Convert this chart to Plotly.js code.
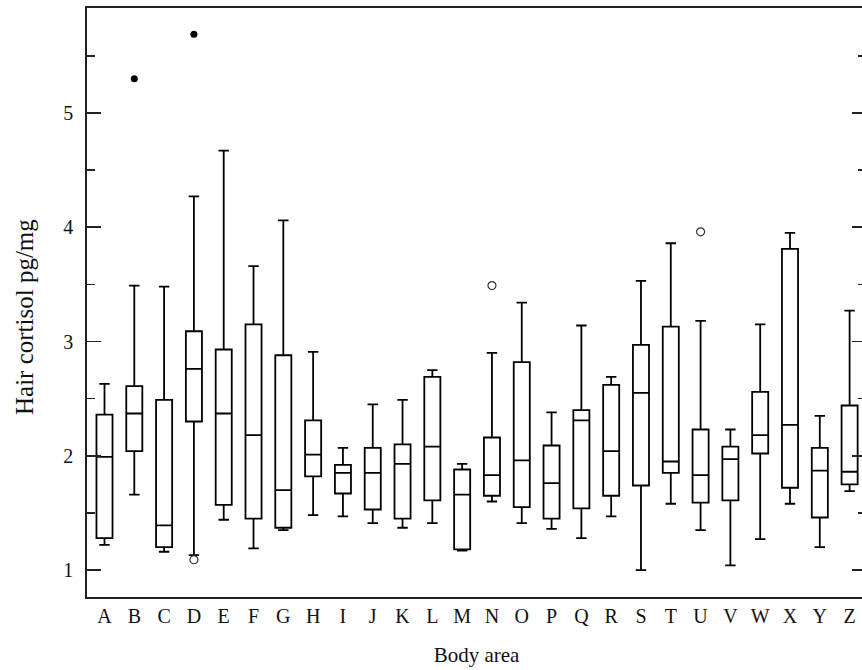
<!DOCTYPE html>
<html>
<head>
<meta charset="utf-8">
<script src="https://cdn.plot.ly/plotly-3.0.1.min.js"></script>
<style>
  html, body { margin: 0; padding: 0; background: #fff; overflow: hidden; }
  #chart { width: 870px; height: 670px; }
</style>
</head>
<body>
<div id="chart"></div>
<script>
// Body areas (categories)
const areas = ["A","B","C","D","E","F","G","H","I","J","K","L","M","N","O","P","Q","R","S","T","U","V","W","X","Y","Z"];

// Box statistics (hair cortisol, pg/mg)
const lowerWhisker = [1.22, 1.66, 1.16, 1.13, 1.44, 1.19, 1.35, 1.48, 1.47, 1.41, 1.37, 1.41, 1.17, 1.60, 1.41, 1.36, 1.28, 1.47, 1.00, 1.58, 1.35, 1.04, 1.27, 1.58, 1.20, 1.69];
const q1Values     = [1.28, 2.04, 1.20, 2.30, 1.57, 1.45, 1.37, 1.82, 1.67, 1.53, 1.45, 1.61, 1.18, 1.65, 1.55, 1.45, 1.54, 1.65, 1.74, 1.85, 1.59, 1.61, 2.02, 1.72, 1.46, 1.75];
const medianValues = [1.99, 2.37, 1.39, 2.76, 2.37, 2.18, 1.70, 2.01, 1.85, 1.85, 1.93, 2.08, 1.66, 1.83, 1.96, 1.76, 2.31, 2.04, 2.55, 1.95, 1.83, 1.97, 2.18, 2.27, 1.87, 1.86];
const q3Values     = [2.36, 2.61, 2.49, 3.09, 2.93, 3.15, 2.88, 2.31, 1.92, 2.07, 2.10, 2.69, 1.88, 2.16, 2.82, 2.09, 2.40, 2.62, 2.97, 3.13, 2.23, 2.08, 2.56, 3.81, 2.07, 2.44];
const upperWhisker = [2.63, 3.49, 3.48, 4.27, 4.67, 3.66, 4.06, 2.91, 2.07, 2.45, 2.49, 2.75, 1.93, 2.90, 3.34, 2.38, 3.14, 2.69, 3.53, 3.86, 3.18, 2.23, 3.15, 3.95, 2.35, 3.27];

// Outliers: extreme values (filled) and outliers (open)
const extremeAreas  = ["B", "D"];
const extremeValues = [5.30, 5.69];
const outlierAreas  = ["D", "N", "U"];
const outlierValues = [1.09, 3.49, 3.96];

// Axis ticks and titles
const yTickValues = [1, 2, 3, 4, 5];
const yTickLabels = ["1", "2", "3", "4", "5"];
const xTitle = "Body area";
const yTitle = "Hair cortisol pg/mg";

const font = "Liberation Serif, Times New Roman, serif";

const traces = [
  {
    type: "box",
    x: areas,
    q1: q1Values,
    median: medianValues,
    q3: q3Values,
    lowerfence: lowerWhisker,
    upperfence: upperWhisker,
    boxpoints: false,
    whiskerwidth: 0.65,
    fillcolor: "rgba(255,255,255,0)",
    line: { color: "#000", width: 1.8 },
    showlegend: false,
    hoverinfo: "skip"
  },
  {
    type: "scatter",
    mode: "markers",
    x: extremeAreas,
    y: extremeValues,
    marker: { symbol: "circle", size: 7, color: "#000" },
    showlegend: false,
    hoverinfo: "skip"
  },
  {
    type: "scatter",
    mode: "markers",
    x: outlierAreas,
    y: outlierValues,
    marker: { symbol: "circle-open", size: 8, color: "#333", line: { width: 1.2 } },
    showlegend: false,
    hoverinfo: "skip"
  }
];

const layout = {
  width: 870,
  height: 670,
  margin: { l: 87, r: 4, t: 8, b: 73 },
  paper_bgcolor: "#fff",
  plot_bgcolor: "#fff",
  font: { family: font, color: "#111", size: 20 },
  boxgap: 0.23,
  showlegend: false,
  xaxis: {
    type: "category",
    categoryorder: "array",
    categoryarray: areas,
    range: [-0.587, 25.55],
    showline: true,
    mirror: true,
    linecolor: "#222",
    linewidth: 1.8,
    ticks: "",
    showgrid: false,
    zeroline: false,
    tickfont: { family: font, size: 20, color: "#111" },
    title: { text: xTitle, font: { family: font, size: 21, color: "#111" }, standoff: 21 },
    automargin: false
  },
  yaxis: {
    range: [0.764, 5.919],
    tickvals: yTickValues,
    ticktext: yTickLabels,
    ticks: "inside",
    ticklen: 14,
    tickwidth: 1.6,
    tickcolor: "#222",
    minor: { dtick: 0.5, tick0: 0.5, ticks: "inside", ticklen: 8, tickwidth: 1.6, tickcolor: "#222", showgrid: false },
    showline: true,
    mirror: "ticks",
    linecolor: "#222",
    linewidth: 1.8,
    showgrid: false,
    zeroline: false,
    ticklabelstandoff: 8,
    tickfont: { family: font, size: 20, color: "#111" },
    automargin: false
  },
  annotations: [
    {
      text: yTitle,
      xref: "paper", yref: "paper",
      x: -0.0796, y: 0.4754,
      xanchor: "center", yanchor: "middle",
      textangle: -90,
      showarrow: false,
      font: { family: font, size: 25, color: "#111" }
    }
  ]
};

Plotly.newPlot("chart", traces, layout, { displayModeBar: false, staticPlot: true });
</script>
</body>
</html>
